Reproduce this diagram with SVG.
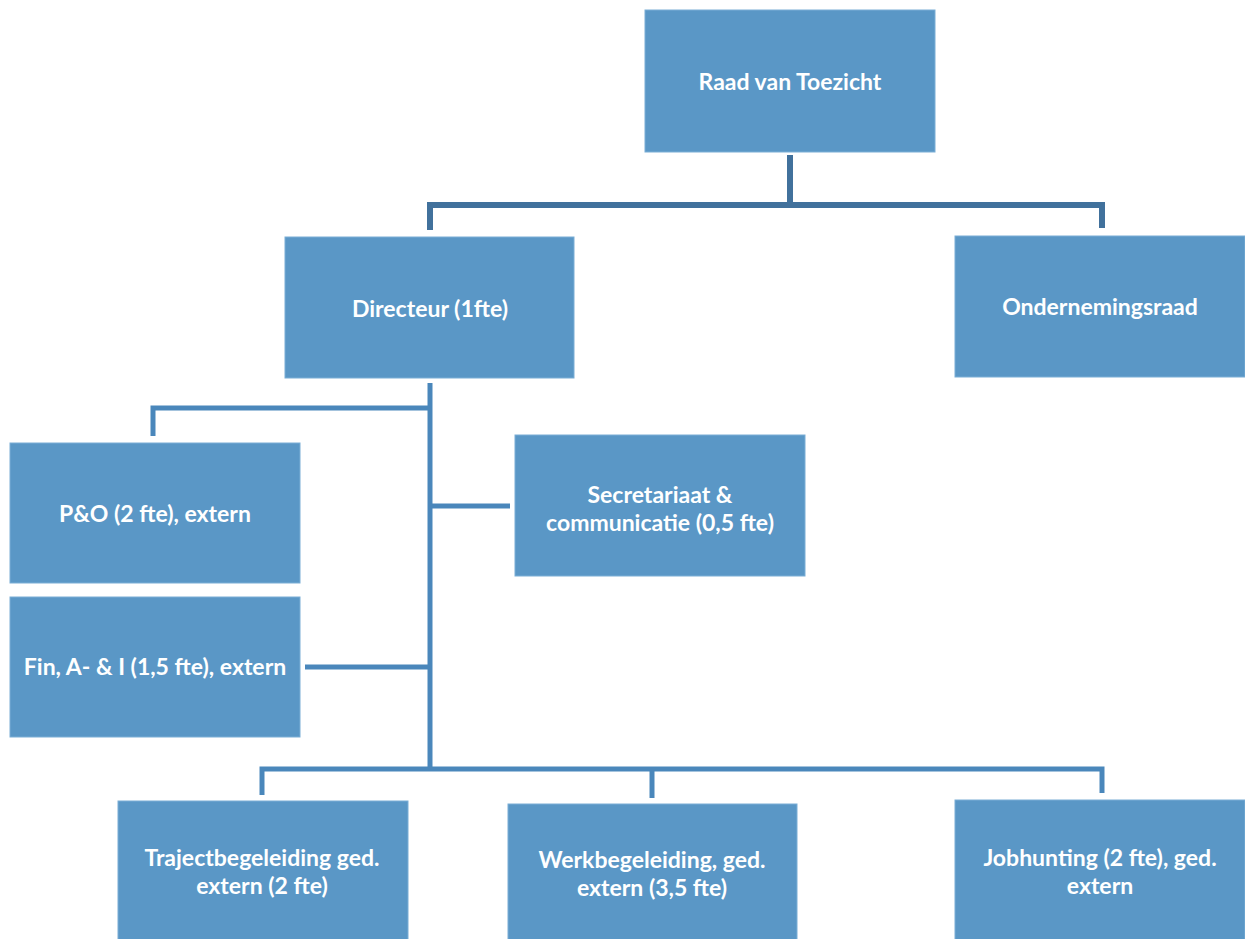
<svg xmlns="http://www.w3.org/2000/svg" width="1245" height="939" viewBox="0 0 1245 939">
<style>
.box{fill:#5a97c6;stroke:#7aaed6;stroke-width:1}
.t{font-family:Lato,"Liberation Sans",sans-serif;font-weight:bold;font-size:23px;fill:#ffffff;text-anchor:middle}
.c1{fill:none;stroke:#41719c;stroke-width:6}
.c2{fill:none;stroke:#4a87bb;stroke-width:5}
</style>
<rect width="1245" height="939" fill="#ffffff"/>
<g id="connectors">
<path class="c1" d="M790 155 V205 M430 230 V205 H1102 V228"/>
<path class="c2" d="M430 383 V770 M153 436 V408 H430 M430 506 H510 M305 667 H430 M262 795 V769 H1102 V793 M652 798 V771"/>
</g>
<g id="raad"><rect class="box" x="645" y="10" width="290" height="142"/><text class="t" x="790" y="90">Raad van Toezicht</text></g>
<g id="directeur"><rect class="box" x="285" y="237" width="289" height="141"/><text class="t" x="430" y="317">Directeur (1fte)</text></g>
<g id="or"><rect class="box" x="955" y="236" width="290" height="141"/><text class="t" x="1100" y="315">Ondernemingsraad</text></g>
<g id="po"><rect class="box" x="10" y="443" width="290" height="140"/><text class="t" x="155" y="522">P&amp;O (2 fte), extern</text></g>
<g id="secretariaat"><rect class="box" x="515" y="435" width="290" height="141"/><text class="t" x="660" y="503">Secretariaat &amp;</text><text class="t" x="660" y="531">communicatie (0,5 fte)</text></g>
<g id="fin"><rect class="box" x="10" y="597" width="290" height="140"/><text class="t" x="155" y="675">Fin, A- &amp; I (1,5 fte), extern</text></g>
<g id="traject"><rect class="box" x="118" y="801" width="290" height="140"/><text class="t" x="262" y="866">Trajectbegeleiding ged.</text><text class="t" x="262" y="894">extern (2 fte)</text></g>
<g id="werk"><rect class="box" x="508" y="804" width="289" height="137"/><text class="t" x="652" y="868">Werkbegeleiding, ged.</text><text class="t" x="652" y="896">extern (3,5 fte)</text></g>
<g id="job"><rect class="box" x="955" y="800" width="290" height="141"/><text class="t" x="1100" y="866">Jobhunting (2 fte), ged.</text><text class="t" x="1100" y="894">extern</text></g>
</svg>
